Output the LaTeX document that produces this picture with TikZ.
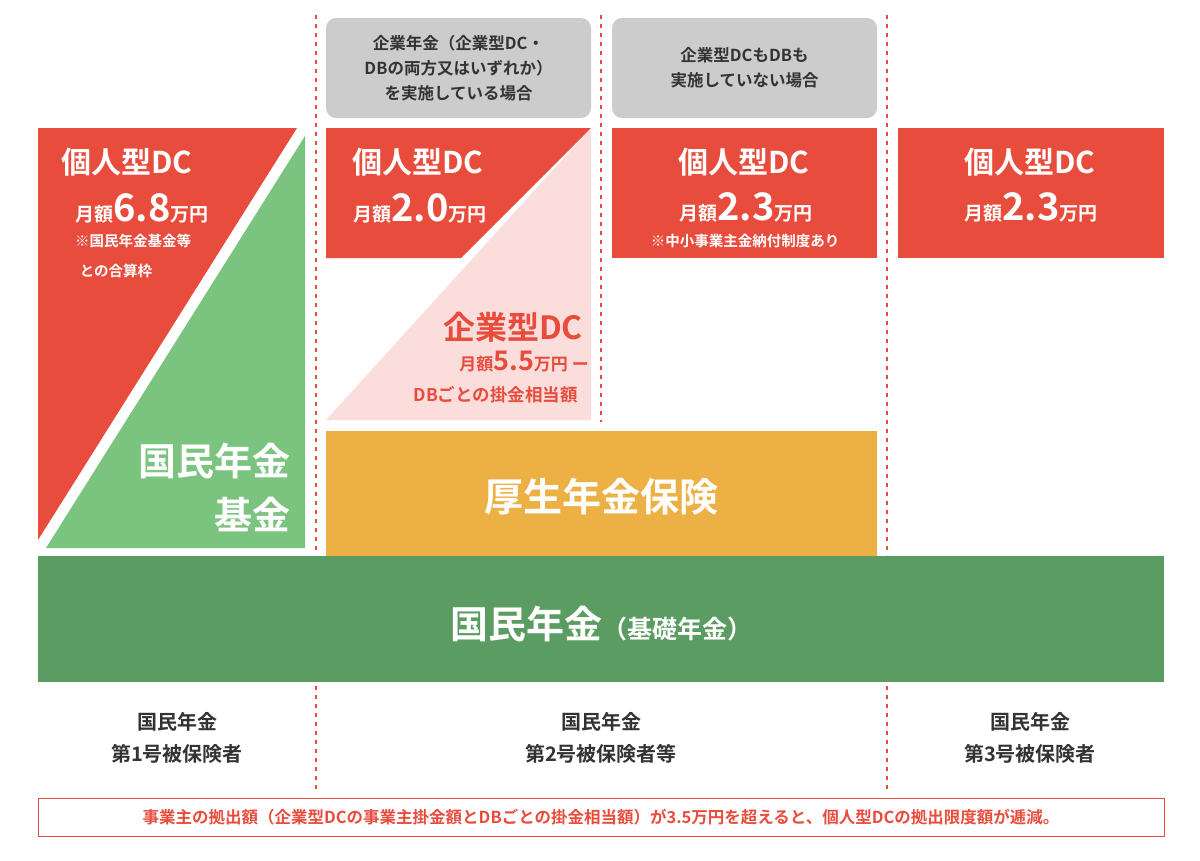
\documentclass[tikz,border=0pt]{standalone}
\usepackage{fontspec}
\setmainfont{Noto Sans CJK JP}[BoldFont={Noto Sans CJK JP Bold}]
\definecolor{rd}{HTML}{E84C3D}
\definecolor{lg}{HTML}{7BC47F}
\definecolor{dg}{HTML}{5A9C62}
\definecolor{og}{HTML}{ECB045}
\definecolor{pk}{HTML}{FBDDDB}
\definecolor{gy}{HTML}{CCCCCC}
\definecolor{tx}{HTML}{333333}
\newcommand{\fs}[1]{\fontsize{#1}{#1}\selectfont}
\tikzset{wt/.style={text=white,font=\bfseries,inner sep=0pt},
 dl/.style={rd,dashed,line width=1.5pt,dash pattern=on 4pt off 5pt},
 gb/.style={fill=gy,rounded corners=10pt,draw=none},
 bl/.style={text=tx,font=\bfseries\fontsize{20}{32}\selectfont,align=center,inner sep=0pt}}
\begin{document}
\begin{tikzpicture}[x=1pt,y=-1pt]
\useasboundingbox (0,0) rectangle (1200,860);
% dashed lines
\draw[dl] (316,15) -- (316,550); \draw[dl] (316,686) -- (316,790);
\draw[dl] (887,15) -- (887,555); \draw[dl] (887,686) -- (887,790);
\draw[dl] (601,15) -- (601,422);
% left column
\fill[rd] (38,128) -- (297,128) -- (38,540) -- cycle;
\fill[lg] (305,136) -- (305,548) -- (46,548) -- cycle;
\node[wt,font=\bfseries\fs{30}] (a1) at (127,162) {個人型DC};
\node[wt] (a2) at (142,208) {\fs{19}月額\fs{38}6.8\fs{19}万円};
\node[wt,font=\bfseries\fs{14.5}] (a3) at (133,241) {※国民年金基金等};
\node[wt,font=\bfseries\fs{14.5}] (a4) at (116,271) {との合算枠};
\node[wt,font=\bfseries\fontsize{38}{54}\selectfont,align=right,anchor=east] (a5) at (291,487) {国民年金\\基金};
% column 2
\node[gb,minimum width=265pt,minimum height=100pt] (g1) at (458.5,68) {};
\node[text=tx,font=\bfseries\fontsize{16.5}{25}\selectfont,align=center] at (g1) {企業年金（企業型DC・\\DBの両方又はいずれか）\\を実施している場合};
\fill[rd] (326,128) -- (591,128) -- (461,258) -- (326,258) -- cycle;
\fill[pk] (591,128) -- (591,420) -- (326,420) -- cycle;
\node[wt,font=\bfseries\fs{30}] (b1) at (418,162) {個人型DC};
\node[wt] (b2) at (420,208) {\fs{19}月額\fs{38}2.0\fs{19}万円};
\node[text=rd,font=\bfseries\fs{32}] at (513,327) (b3) {企業型DC};
\node[text=rd,font=\bfseries,anchor=east,inner sep=0pt] (b4) at (589,362) {\fs{17}月額\fs{27}5.5\fs{17}万円 ー};
\node[text=rd,font=\bfseries\fs{17.5},anchor=east,inner sep=0pt] (b5) at (578,395) {DBごとの掛金相当額};
% column 3
\node[gb,minimum width=265pt,minimum height=100pt] (g2) at (744.5,68) {};
\node[text=tx,font=\bfseries\fontsize{16.5}{25}\selectfont,align=center] at (g2) {企業型DCもDBも\\実施していない場合};
\fill[rd] (612,128) rectangle (877,258);
\node[wt,font=\bfseries\fs{30}] (c1) at (744,162) {個人型DC};
\node[wt] (c2) at (746,207) {\fs{19}月額\fs{38}2.3\fs{19}万円};
\node[wt,font=\bfseries\fs{14.5}] (c3) at (745,241) {※中小事業主金納付制度あり};
% column 4
\fill[rd] (898,128) rectangle (1164,258);
\node[wt,font=\bfseries\fs{30}] (d1) at (1030,162) {個人型DC};
\node[wt] (d2) at (1031,207) {\fs{19}月額\fs{38}2.3\fs{19}万円};
% bars
\fill[og] (326,431) rectangle (877,556);
\node[wt,font=\bfseries\fs{39}] (e1) at (601,497) {厚生年金保険};
\fill[dg] (38,556) rectangle (1164,682);
\node[wt] (f1) at (601,624) {\fs{38}国民年金\fs{25}（基礎年金）};
% bottom labels
\node[bl] (h1) at (177,738) {国民年金\\第1号被保険者};
\node[bl] (h2) at (601,738) {国民年金\\第2号被保険者等};
\node[bl] (h3) at (1030,738) {国民年金\\第3号被保険者};
\node[draw=rd,line width=0.8pt,minimum width=1126pt,minimum height=38pt,inner sep=0pt] (ft) at (601,817) {};
\node[text=rd,font=\bfseries\fs{16.5}] at (ft) {事業主の拠出額（企業型DCの事業主掛金額とDBごとの掛金相当額）が3.5万円を超えると、個人型DCの拠出限度額が逓減。};
\end{tikzpicture}
\end{document}
